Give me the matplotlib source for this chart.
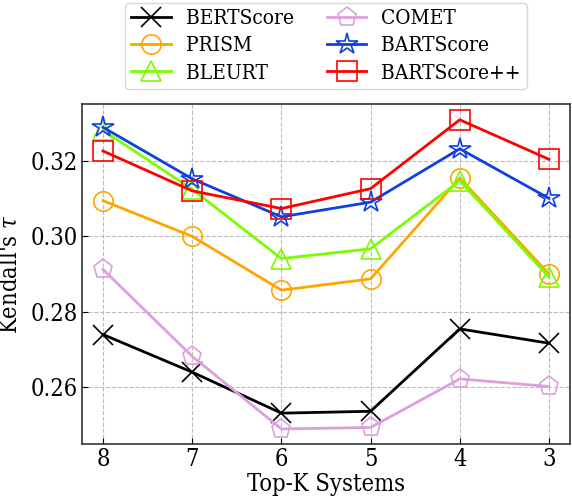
import numpy as np
import matplotlib.pyplot as plt

plt.rcParams['font.family'] = 'DejaVu Serif'
plt.rcParams['font.stretch'] = 'condensed'
plt.rcParams['mathtext.fontset'] = 'dejavuserif'

# Top-K systems (x axis, read right to left)
top_k = [8, 7, 6, 5, 4, 3]

bertscore = [0.2739, 0.2639, 0.2530, 0.2535, 0.2754, 0.2716]
prism = [0.3095, 0.3000, 0.2857, 0.2887, 0.3155, 0.2900]
bleurt = [0.3282, 0.3125, 0.2941, 0.2967, 0.3148, 0.2892]
comet = [0.2912, 0.2681, 0.2488, 0.2492, 0.2621, 0.2601]
bartscore = [0.3290, 0.3153, 0.3052, 0.3091, 0.3233, 0.3101]
bartscore_pp = [0.3227, 0.3121, 0.3074, 0.3127, 0.3310, 0.3205]

fig = plt.figure(figsize=(5.72, 4.98), dpi=100)
ax = fig.add_axes([82 / 572, 1 - 444 / 498, (570 - 82) / 572, (444 - 104) / 498])

x = np.arange(len(top_k))
ms = 14
ax.plot(x, bertscore, color='black', marker='x', ms=ms, mew=1.2, lw=2, label='BERTScore')
ax.plot(x, prism, color='orange', marker='o', ms=ms, mfc='none', mew=1.2, lw=2, label='PRISM')
ax.plot(x, bleurt, color='lawngreen', marker='^', ms=ms, mfc='none', mew=1.2, lw=2, label='BLEURT')
ax.plot(x, comet, color='plum', marker='p', ms=ms, mfc='none', mew=1.2, lw=2, label='COMET')
ax.plot(x, bartscore, color='#1040e0', marker='*', ms=ms + 2, mfc='none', mew=1.2, lw=2, label='BARTScore')
ax.plot(x, bartscore_pp, color='red', marker='s', ms=ms, mfc='none', mew=1.2, lw=2, label='BARTScore++')

ax.set_xticks(x)
ax.set_xticklabels([str(k) for k in top_k])
ax.set_xlim(-0.236, len(top_k) - 1 + 0.236)
ax.set_ylim(0.2448, 0.3352)
ax.set_yticks([0.26, 0.28, 0.30, 0.32])
ax.set_yticklabels(['0.26', '0.28', '0.30', '0.32'])
ax.tick_params(direction='in', labelsize=17, length=4, pad=3)
ax.grid(True, linestyle='--', color='#bbbbbb', lw=0.8)
ax.set_axisbelow(True)
for s in ax.spines.values():
    s.set_linewidth(1.2)
    s.set_color('#333333')

ax.set_xlabel('Top-K Systems', fontsize=17, labelpad=1)
ax.set_ylabel("Kendall's $\\tau$", fontsize=17, labelpad=6)

ax.legend(ncol=2, loc='lower center', bbox_to_anchor=(0.5, 1.044), fontsize=15,
          handlelength=1.9, columnspacing=1.6, labelspacing=0.4, borderpad=0.3,
          handletextpad=0.7, borderaxespad=0)

fig.savefig('out.png', dpi=100)
